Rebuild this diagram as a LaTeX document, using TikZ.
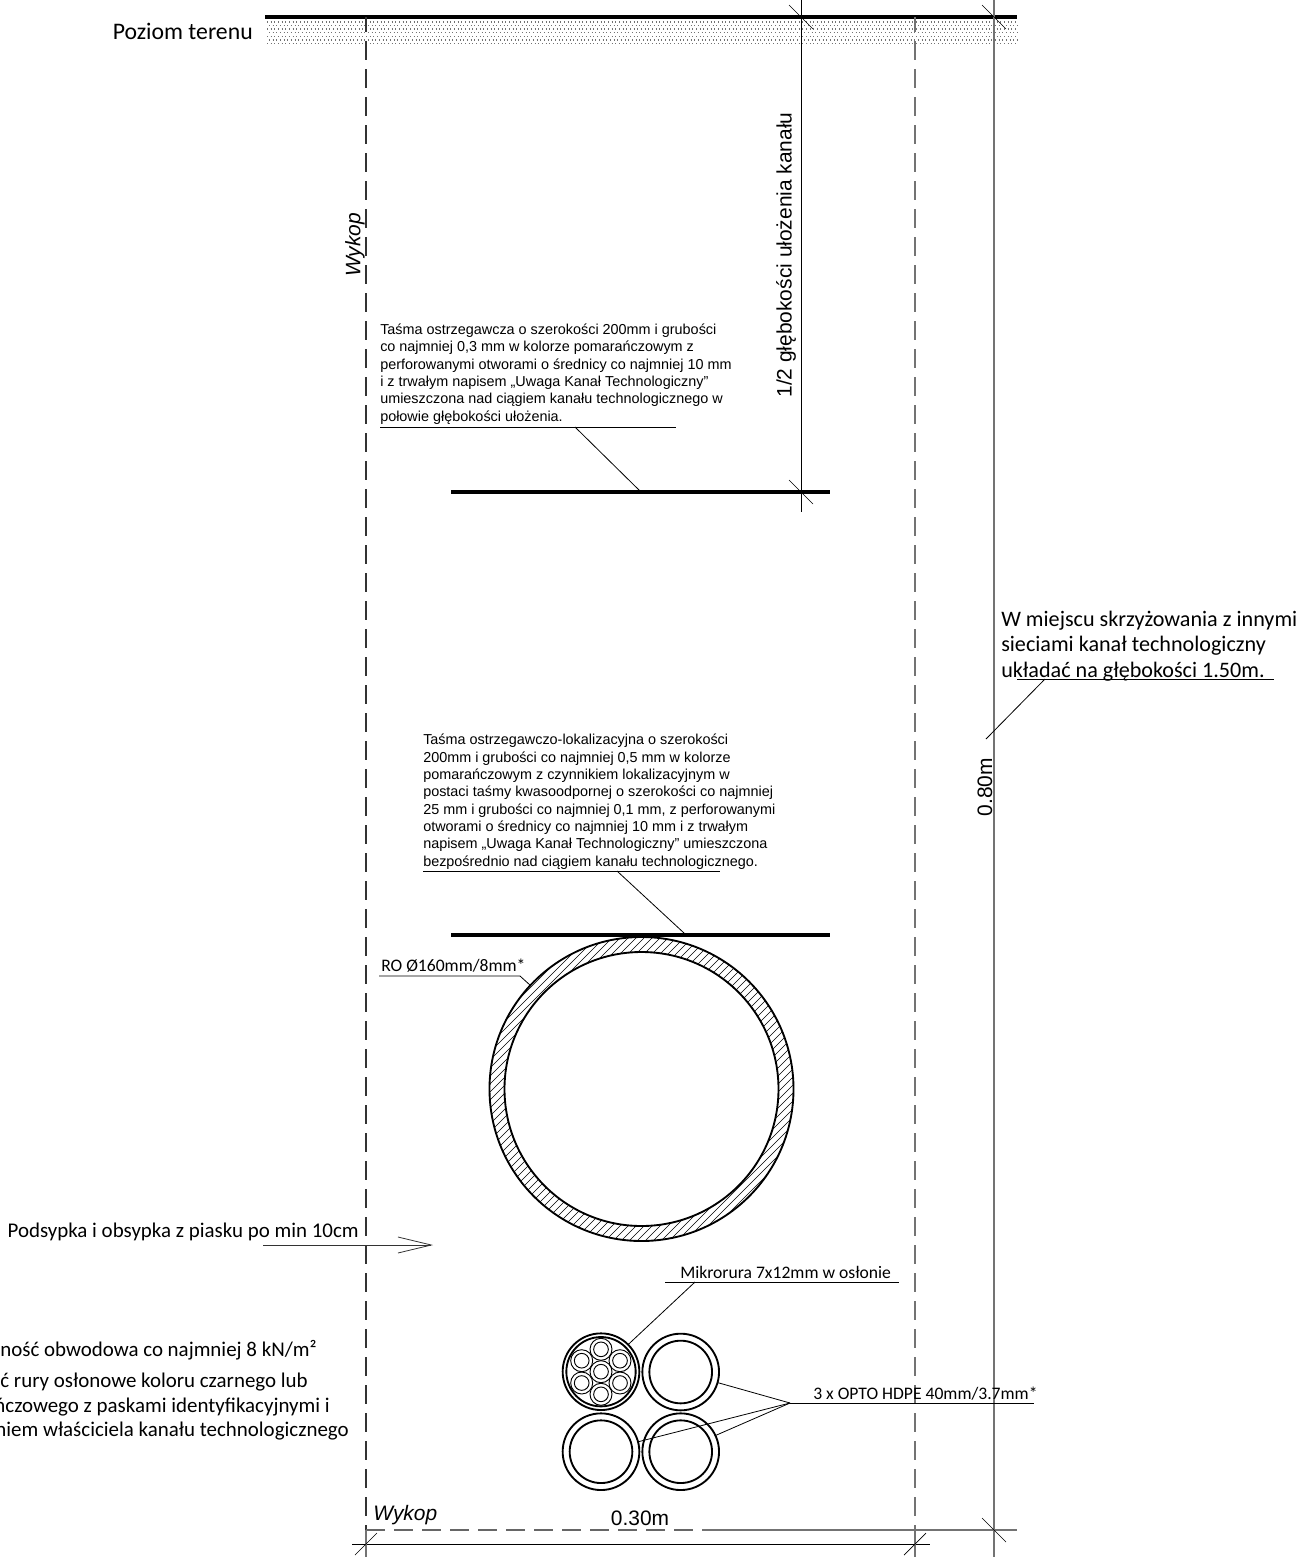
\documentclass[tikz,border=0pt]{standalone}
\usepackage{fontspec}
\setmainfont{Carlito}
\newfontfamily\arialfont{Liberation Sans}
\usetikzlibrary{arrows.meta}
\tikzstyle{label}=[font=\fontsize{15.7pt}{18pt}\selectfont,inner sep=0pt]
\tikzstyle{smalllabel}=[font=\fontsize{13.2pt}{15pt}\selectfont,inner sep=0pt]
\tikzstyle{note}=[font=\arialfont\fontsize{10.8pt}{13pt}\selectfont,align=left,inner sep=0pt,anchor=north west]
\tikzstyle{dimlabel}=[font=\arialfont\fontsize{15.7pt}{18pt}\selectfont,inner sep=0pt]
\tikzstyle{wykoplabel}=[font=\arialfont\itshape\fontsize{15.7pt}{18pt}\selectfont,inner sep=0pt]
\tikzstyle{leader}=[draw,line width=0.6pt]
\tikzstyle{dimline}=[draw,line width=1pt,black!55]
\tikzstyle{tick}=[draw,line width=0.5pt]
\tikzstyle{trench}=[draw,line width=0.8pt,dash pattern=on 14.25pt off 6.75pt]
\tikzstyle{band}=[draw,line width=2.7pt]
\tikzstyle{pipe}=[circle,draw,line width=1.4pt,inner sep=0pt,outer sep=0pt]
\tikzstyle{micro}=[circle,draw,line width=0.7pt,inner sep=0pt,outer sep=0pt]

\begin{document}
\begin{tikzpicture}[x=0.75pt,y=-0.75pt]
    \useasboundingbox (0,0) rectangle (1301,1557);
    \clip (0,0) rectangle (1301,1557);

    % Ground surface and the sand dots under it
    \foreach \row/\phase in {22/0,25.5/1.3,29/0,32.7/1.3,36.3/0,40/1.3,43.5/0}
        \draw[line width=0.8pt,black!55,dash pattern=on 0.8pt off 1.95pt,dash phase=\phase pt] (267,\row) -- (1017,\row);
    \coordinate (G1) at (265,17);
    \coordinate (G2) at (1017,17);
    \path[band] (G1) -- (G2);
    \node[label,font=\fontsize{17.8pt}{20pt}\selectfont,anchor=east] (poziom) at (253,31) {Poziom terenu};

    % Trench walls
    \foreach \name/\x/\shade in {WL/366/80,WR/915/55} {
        \coordinate (\name top) at (\x,17);
        \coordinate (\name bot) at (\x,1530);
        \path[trench,black!\shade,dash phase=3pt] (\name top) -- (\name bot);
    }
    \coordinate (Wmid) at (702,1530);
    \coordinate (Wend) at (1017,1530);
    \path[trench,black!60] (WLbot) -- (Wmid);
    \path[dimline] (Wmid) -- (WRbot) -- (Wend);
    \node[wykoplabel,rotate=90] (wykopL) at (355,245) {Wykop};
    \node[wykoplabel,anchor=base west] (wykopB) at (373,1520) {Wykop};

    % Dimension lines
    \coordinate (D1top) at (801,0);
    \coordinate (D1bot) at (801,512);
    \path[leader] (D1top) -- (D1bot);
    \coordinate (D2top) at (994,0);
    \coordinate (D2bot) at (994,1557);
    \path[dimline] (D2top) -- (D2bot);
    \coordinate (D3l) at (352,1544);
    \coordinate (D3r) at (930,1544);
    \path[leader] (D3l) -- (D3r);
    \coordinate (D4top) at (366,1530);
    \coordinate (D4bot) at (366,1557);
    \path[dimline] (D4top) -- (D4bot);
    \coordinate (D5top) at (915,1530);
    \coordinate (D5bot) at (915,1557);
    \path[dimline] (D5top) -- (D5bot);
    \foreach \x/\y in {801/17,994/17,801/492,994/1530}
        \draw[tick] (\x-12,\y-12) -- (\x+12,\y+12);
    \foreach \x/\y in {366/1544,915/1544}
        \draw[tick] (\x-11,\y+11) -- (\x+11,\y-11);
    \node[dimlabel,rotate=90] (half) at (786,255) {1/2 głębokości ułożenia kanału};
    \node[dimlabel,rotate=90] (h080) at (985,787) {0.80m};
    \node[dimlabel] (w030) at (640,1518) {0.30m};

    % Warning tapes
    \coordinate (T1a) at (451,492);
    \coordinate (T1b) at (830,492);
    \path[band] (T1a) -- (T1b);
    \coordinate (T2a) at (451,935);
    \coordinate (T2b) at (830,935);
    \path[band] (T2a) -- (T2b);

    \node[note] (note1) at (380,323.5) {Taśma ostrzegawcza o szerokości 200mm i grubości\\
        co najmniej 0,3 mm w kolorze pomarańczowym z\\
        perforowanymi otworami o średnicy co najmniej 10 mm\\
        i z trwałym napisem „Uwaga Kanał Technologiczny”\\
        umieszczona nad ciągiem kanału technologicznego w\\
        połowie głębokości ułożenia.};
    \node[note] (note2) at (423,734) {Taśma ostrzegawczo-lokalizacyjna o szerokości\\
        200mm i grubości co najmniej 0,5 mm w kolorze\\
        pomarańczowym z czynnikiem lokalizacyjnym w\\
        postaci taśmy kwasoodpornej o szerokości co najmniej\\
        25 mm i grubości co najmniej 0,1 mm, z perforowanymi\\
        otworami o średnicy co najmniej 10 mm i z trwałym\\
        napisem „Uwaga Kanał Technologiczny” umieszczona\\
        bezpośrednio nad ciągiem kanału technologicznego.};

    \foreach \source/\dest in {{380,427}/{676,427},{575,427}/{640,491},{423,871}/{720,871},{617,871}/{684,933},{1017,679}/{1274,679},{1045,679}/{986,739}}
        \draw[leader] (\source) -- (\dest);

    \node[label,font=\fontsize{16.6pt}{19pt}\selectfont,anchor=north west,align=left] (crossing) at (1001,611) {W miejscu skrzyżowania z innymi\\sieciami kanał technologiczny\\układać na głębokości 1.50m.};

    % Main duct with hatching
    \begin{scope}[even odd rule]
        \clip (641.5,1089) circle[radius=152] (641.5,1089) circle[radius=137];
        \foreach \d in {1510,1518,...,1950}
            \draw[line width=0.5pt] (\d-1250,1250) -- (\d-920,920);
    \end{scope}
    \node[pipe,minimum size=228pt] (ROout) at (641.5,1089) {};
    \node[pipe,minimum size=205.5pt] (ROin) at (641.5,1089) {};
    \node[smalllabel,anchor=base west] (ROtxt) at (381,971) {RO Ø160mm/8mm*};
    \coordinate (ROa) at (379,976);
    \coordinate (ROb) at (520,976);
    \path[leader] (ROa) -- (ROb) -- (ROout.137);

    % Sand arrow
    \node[label,anchor=base east] (sand) at (359,1237) {Podsypka i obsypka z piasku po min 10cm};
    \coordinate (Aa) at (263,1245);
    \coordinate (Ab) at (433,1245);
    \draw[line width=0.7pt,black!80,-{Straight Barb[length=25pt,width=12pt,line width=0.6pt]}] (Aa) -- (Ab);

    % Side notes, cut by the page edge
    \foreach \pos/\name/\txt in {{317,1350}/N1/{Sztywność obwodowa co najmniej 8 kN/m²},
        {308,1382}/N2/{Stosować rury osłonowe koloru czarnego lub},
        {330,1407}/N3/{pomarańczowego z paskami identyfikacyjnymi i},
        {349,1431}/N4/{oznaczeniem właściciela kanału technologicznego}}
        \node[label,anchor=east] (\name) at (\pos) {\txt};

    % Cable ducts
    \foreach \pos/\name in {{601,1371.7}/Pa,{680.7,1372}/Pb,{601,1451.7}/Pc,{680.7,1451.7}/Pd}
        \node[pipe,minimum size=57.5pt] (\name) at (\pos) {};
    \foreach \pos/\name in {{680.7,1372}/Pbin,{601,1451.7}/Pcin,{680.7,1451.7}/Pdin}
        \node[pipe,minimum size=47pt] (\name) at (\pos) {};
    \node[pipe,minimum size=52pt] (Pain) at (601,1371.7) {};
    \foreach \pos/\name in {{601,1371.7}/M0,{601,1349.3}/M1,{620,1360.7}/M2,{620,1383}/M3,{601,1394.3}/M4,{581.7,1383}/M5,{581.7,1360.7}/M6} {
        \node[micro,minimum size=16.5pt] (\name) at (\pos) {};
        \node[micro,minimum size=11pt] (\name in) at (\pos) {};
    }

    \node[smalllabel,anchor=base west] (MRtxt) at (680,1278) {Mikrorura 7x12mm w osłonie};
    \coordinate (MRa) at (665,1282);
    \coordinate (MRb) at (899,1282);
    \coordinate (MRc) at (695,1282);
    \path[leader] (MRa) -- (MRb);
    \path[leader] (MRc) -- (Pa.45);

    \node[smalllabel,anchor=base west] (OPtxt) at (813,1399) {3 x OPTO HDPE 40mm/3.7mm*};
    \coordinate (OPhub) at (790,1403);
    \coordinate (OPend) at (1034,1403);
    \path[leader] (OPhub) -- (OPend);
    \foreach \dest/\ang in {Pb/-16,Pd/25,Pc/15}
        \path[leader] (OPhub) -- (\dest.\ang);
\end{tikzpicture}
\end{document}
